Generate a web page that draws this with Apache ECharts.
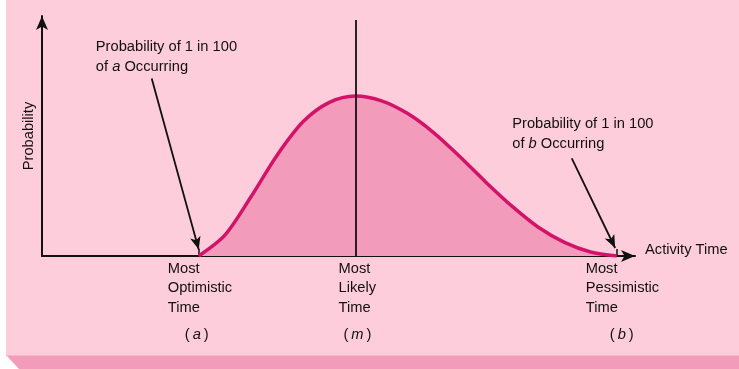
<!DOCTYPE html>
<html>
<head>
<meta charset="utf-8">
<script src="https://cdn.jsdelivr.net/npm/echarts@6/dist/echarts.min.js"></script>
<style>
  html, body { margin: 0; padding: 0; background: #fff; }
  #chart { width: 739px; height: 369px; }
</style>
</head>
<body>
<div id="chart"></div>
<script>
// activity time (a = 2, m = 5, b = 10) and relative probability
const timeValues = [2, 2.5, 3, 3.5, 4, 4.5, 5, 5.5, 6, 6.5, 7, 7.5, 8, 8.5, 9, 9.5, 10];
const probValues = [0, 0.13, 0.37, 0.63, 0.84, 0.96, 1.0, 0.97, 0.89, 0.77, 0.62, 0.46, 0.31, 0.18, 0.085, 0.025, 0];

const pointTimes = [2, 5, 10];
const pointNames = ['Most\nOptimistic\nTime', 'Most\nLikely\nTime', 'Most\nPessimistic\nTime'];
const pointLetters = ['a', 'm', 'b'];

const textFont = '"Liberation Sans", Arial, sans-serif';
const fs = 14.7;
const ink = '#111';

const chart = echarts.init(document.getElementById('chart'));

const curve = timeValues.map((t, i) => [t, probValues[i]]);

const nameLabels = pointTimes.map((t, i) => ({
    coord: [t, 0],
    label: {
        formatter: pointNames[i],
        offset: [i === 1 ? -17 : -31, -2]
    }
}));
const letterLabels = pointTimes.map((t, i) => ({
    coord: [t, 0],
    label: {
        formatter: '(\u2009{i|' + pointLetters[i] + '}\u2009)',
        align: 'center',
        offset: [i === 0 ? -2 : (i === 1 ? 2 : 5), 64]
    }
}));

chart.setOption({
    backgroundColor: '#fff',
    animation: false,
    graphic: [
        { type: 'rect', z: -10, shape: { x: 6, y: 0, width: 733, height: 356 }, style: { fill: '#fecddc' } },
        { type: 'polygon', z: -10, shape: { points: [[6, 355], [739, 355], [739, 369], [19, 369]] }, style: { fill: '#f39bbb' } },
        { type: 'rect', z: -9, shape: { x: 6, y: 355, width: 733, height: 1 }, style: { fill: '#f8b6cc' } }
    ],
    grid: {
        left: 42,
        right: 104,
        top: 16,
        bottom: 113
    },
    xAxis: {
        type: 'value',
        min: -1,
        max: 10.35,
        name: 'Activity Time',
        nameLocation: 'end',
        nameGap: 10,
        nameTextStyle: { color: ink, fontSize: fs, fontFamily: textFont, verticalAlign: 'bottom', lineHeight: 12 },
        axisLine: {
            onZero: false,
            symbol: ['none', 'arrow'],
            symbolSize: [9, 14],
            lineStyle: { color: ink, width: 2 }
        },
        axisTick: {
            show: true,
            inside: true,
            length: 7,
            customValues: [2, 10],
            lineStyle: { color: ink, width: 1.5 }
        },
        axisLabel: { show: false },
        splitLine: { show: false }
    },
    yAxis: {
        type: 'value',
        min: 0,
        max: 1.5,
        name: 'Probability',
        nameLocation: 'middle',
        nameRotate: 90,
        nameGap: 6,
        nameTextStyle: { color: ink, fontSize: fs, fontFamily: textFont },
        axisLine: {
            show: true,
            onZero: false,
            symbol: ['none', 'arrow'],
            symbolSize: [9, 14],
            lineStyle: { color: ink, width: 2 }
        },
        axisTick: { show: false },
        axisLabel: { show: false },
        splitLine: { show: false }
    },
    series: [{
        type: 'line',
        data: curve,
        smooth: 0.3,
        showSymbol: false,
        lineStyle: { color: '#d3136a', width: 3.5 },
        areaStyle: { color: '#f39bbb', opacity: 1 },
        z: 2,
        markLine: {
            silent: true,
            symbol: ['none', 'arrow'],
            symbolSize: [8, 13],
            label: { show: false },
            lineStyle: { color: ink, width: 1.8, type: 'solid' },
            data: [
                [{ coord: [5, 0], symbol: 'none' }, { coord: [5, 1.475], symbol: 'none' }],
                [{ coord: [1.1, 1.11] }, { coord: [2.0, 0.04] }],
                [{ coord: [9.14, 0.61] }, { coord: [9.97, 0.05] }]
            ]
        },
        markPoint: {
            silent: true,
            symbol: 'circle',
            symbolSize: 0,
            label: {
                show: true,
                position: 'bottom',
                align: 'left',
                verticalAlign: 'top',
                color: ink,
                fontSize: fs,
                lineHeight: 19.5,
                fontFamily: textFont,
                rich: {
                    i: { fontStyle: 'italic', color: ink, fontSize: fs, fontFamily: textFont }
                }
            },
            data: nameLabels.concat(letterLabels).concat([
                {
                    coord: [0.03, 1.5],
                    label: {
                        formatter: 'Probability of 1 in 100\nof {i|a} Occurring',
                        offset: [0, 16],
                        lineHeight: 20
                    }
                },
                {
                    coord: [8.0, 0.93],
                    label: {
                        formatter: 'Probability of 1 in 100\nof {i|b} Occurring',
                        offset: [0, 2],
                        lineHeight: 20
                    }
                }
            ])
        }
    }]
});
</script>
</body>
</html>
